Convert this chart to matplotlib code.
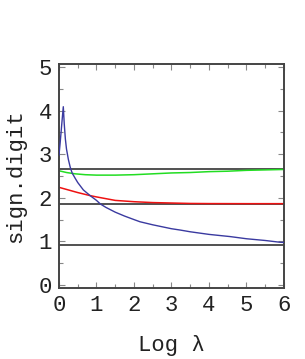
import matplotlib
matplotlib.use("Agg")
import matplotlib.pyplot as plt
from matplotlib.ticker import MultipleLocator

# curves
blue_x = [0, 0.03, 0.06, 0.09, 0.115, 0.14, 0.17, 0.2, 0.25, 0.3, 0.35, 0.43, 0.5, 0.65,
          0.83, 1.0, 1.1, 1.25, 1.5, 1.75, 2.0, 2.16, 2.5, 3.0, 3.23, 3.5, 4.0, 4.56, 5.0, 5.5, 5.89, 6.0]
blue_y = [2.98, 3.25, 3.55, 3.85, 4.09, 3.7, 3.35, 3.12, 2.88, 2.7, 2.57, 2.45, 2.35, 2.18,
          2.05, 1.94, 1.86, 1.78, 1.67, 1.58, 1.5, 1.45, 1.38, 1.29, 1.26, 1.22, 1.16, 1.11, 1.06, 1.02, 0.98, 0.975]

red_x = [0, 0.25, 0.5, 0.83, 1.0, 1.5, 2.0, 2.5, 3.0, 3.5, 4.0, 5.0, 6.0]
red_y = [2.24, 2.18, 2.12, 2.05, 2.02, 1.94, 1.91, 1.89, 1.88, 1.87, 1.867, 1.865, 1.865]

green_x = [0, 0.2, 0.43, 0.7, 1.0, 1.5, 2.0, 2.5, 3.0, 3.5, 4.0, 4.5, 5.0, 5.5, 6.0]
green_y = [2.62, 2.58, 2.55, 2.53, 2.52, 2.52, 2.53, 2.55, 2.57, 2.58, 2.6, 2.61, 2.63, 2.64, 2.65]

hlines_y = [2.66, 1.865, 0.915]

xticks = [0, 1, 2, 3, 4, 5, 6]
yticks = [0, 1, 2, 3, 4, 5]

mono = "Liberation Mono"

fig = plt.figure(figsize=(3.05, 3.59), dpi=100)
ax = fig.add_axes([0.1934, 0.1978, 0.7377, 0.6239])

for y in hlines_y:
    ax.axhline(y, color="#333333", lw=1.2, zorder=1)

ax.plot(green_x, green_y, color="#22dd22", lw=1.1, zorder=2)
ax.plot(red_x, red_y, color="#ee1111", lw=1.1, zorder=2)
ax.plot(blue_x, blue_y, color="#3a3aa0", lw=1.0, zorder=3)

ax.set_xlim(0, 6)
ax.set_ylim(-0.07, 5.07)
ax.set_xticks(xticks)
ax.set_yticks(yticks)
ax.xaxis.set_minor_locator(MultipleLocator(0.5))
ax.yaxis.set_minor_locator(MultipleLocator(0.5))
ax.tick_params(which="both", direction="in", top=True, right=True, color="#888888")
ax.tick_params(which="major", length=4, width=0.8, labelsize=16, pad=5)
ax.tick_params(which="minor", length=3, width=0.8)
for lab in ax.get_xticklabels() + ax.get_yticklabels():
    lab.set_family(mono)
    lab.set_color("#222222")

for sp in ax.spines.values():
    sp.set_color("#444444")
    sp.set_linewidth(1.4)

ax.set_xlabel("Log λ", family=mono, fontsize=16, color="#222222", labelpad=14)
ax.set_ylabel("sign.digit", family=mono, fontsize=16, color="#222222", labelpad=9)

fig.savefig("out.png", dpi=100)
